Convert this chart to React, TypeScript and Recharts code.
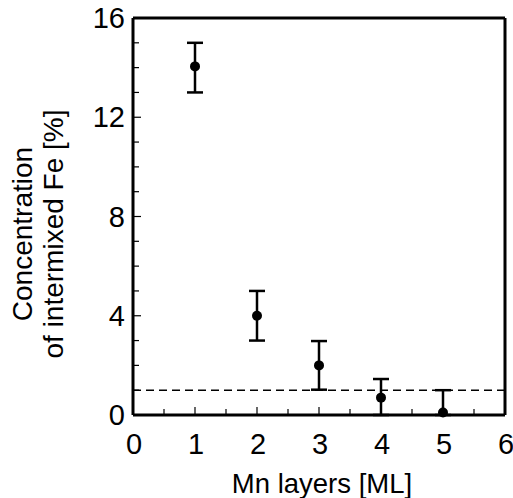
import { ScatterChart, Scatter, XAxis, YAxis, ErrorBar, ReferenceLine, Label } from "recharts";

const layers = [1, 2, 3, 4, 5];
const concentration = [14.05, 4.0, 2.0, 0.7, 0.1];
const errLow = [1.05, 1.0, 0.98, 0.7, 0.1];
const errHigh = [0.95, 1.0, 0.98, 0.75, 0.9];

const xTicks = [0, 0.5, 1, 1.5, 2, 2.5, 3, 3.5, 4, 4.5, 5, 5.5, 6];
const yTicks = [0, 1, 2, 3, 4, 5, 6, 7, 8, 9, 10, 11, 12, 13, 14, 15, 16];
const yLabels = [0, 4, 8, 12, 16];
const detectionLimit = 1;

const data = layers.map((x, i) => ({
    x,
    y: concentration[i],
    err: [errLow[i], errHigh[i]],
}));

const FONT = "'Liberation Sans', Arial, Helvetica, sans-serif";

const XTick = (props: any) => {
    const { x, y, payload } = props;
    const major = Number.isInteger(payload.value);
    return (
        <g>
            <line x1={x} y1={y} x2={x} y2={y - (major ? 8 : 6)} stroke="#000" strokeWidth={1.2} />
            {major && (
                <text x={x + 1} y={y + 39} textAnchor="middle" fontSize={29} fontFamily={FONT} fill="#000">
                    {payload.value}
                </text>
            )}
        </g>
    );
};

const YTick = (props: any) => {
    const { x, y, payload } = props;
    const major = yLabels.includes(payload.value);
    return (
        <g>
            <line x1={x} y1={y} x2={x + (major ? 8 : 6)} y2={y} stroke="#000" strokeWidth={1.2} />
            {major && (
                <text x={x - 8} y={y + 10} textAnchor="end" fontSize={29} fontFamily={FONT} fill="#000">
                    {payload.value}
                </text>
            )}
        </g>
    );
};

const Dot = (props: any) => <circle cx={props.cx} cy={props.cy} r={5} fill="#000" />;

const App = () => (
    <div style={{ position: "absolute", left: 0, top: 0, background: "#fff" }}>
        <ScatterChart width={513} height={498} margin={{ top: 18, right: 8, left: 53, bottom: 0 }}>
            <XAxis
                type="number"
                dataKey="x"
                domain={[0, 6]}
                ticks={xTicks}
                interval={0}
                height={83}
                tickSize={0}
                tickMargin={0}
                tick={<XTick />}
                axisLine={{ stroke: "#000", strokeWidth: 3 }}
            >
                <Label
                    content={(p: any) => (
                        <text x={p.viewBox.x + p.viewBox.width / 2 + 3} y={p.viewBox.y + 78} textAnchor="middle" fontSize={27.5} fontFamily={FONT} fill="#000">
                            Mn layers [ML]
                        </text>
                    )}
                />
            </XAxis>
            <YAxis
                type="number"
                dataKey="y"
                domain={[0, 16]}
                ticks={yTicks}
                interval={0}
                width={80}
                tickSize={0}
                tickMargin={0}
                tick={<YTick />}
                axisLine={{ stroke: "#000", strokeWidth: 3 }}
            >
                <Label
                    content={(p: any) => (
                        <text transform={`translate(${p.viewBox.x - 21},${p.viewBox.y + 216}) rotate(-90)`} textAnchor="middle" fontSize={28} fontFamily={FONT} fill="#000">
                            <tspan x={0} y={0}>Concentration</tspan>
                            <tspan x={0} y={31}>of intermixed Fe [%]</tspan>
                        </text>
                    )}
                />
            </YAxis>
            <ReferenceLine y={16} stroke="#000" strokeWidth={3} />
            <ReferenceLine x={6} stroke="#000" strokeWidth={3} />
            <ReferenceLine y={detectionLimit} stroke="#000" strokeWidth={1.5} strokeDasharray="8 5" />
            <Scatter data={data} shape={<Dot />} isAnimationActive={false}>
                <ErrorBar dataKey="err" direction="y" width={8} stroke="#000" strokeWidth={2.5} isAnimationActive={false} />
            </Scatter>
        </ScatterChart>
    </div>
);

export default App;
